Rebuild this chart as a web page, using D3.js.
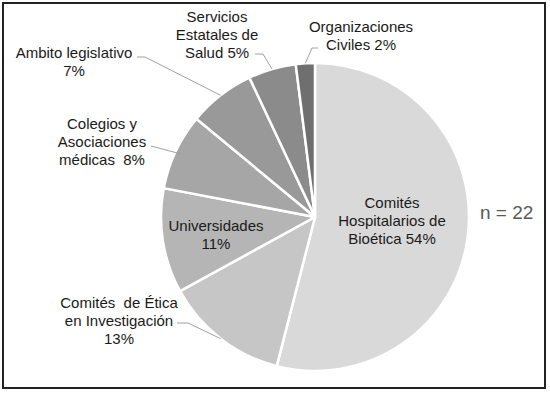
<!DOCTYPE html>
<head>
  <meta charset="utf-8">
  <script src="https://cdn.jsdelivr.net/npm/d3@7/dist/d3.min.js"></script>
  <style>
    body { margin: 0; background: #fff; }
    svg { font-family: "Liberation Sans", Arial, sans-serif; }
    .lbl { font-size: 15px; fill: #1a1a1a; white-space: pre; }
    .leader { fill: none; stroke: #a0a0a0; stroke-width: 1; }
  </style>
</head>
<body>
<div id="chart"></div>
<script>

// data, clockwise from 12 o'clock
var categories = ["Comités Hospitalarios de Bioética", "Comités de Ética en Investigación",
                  "Universidades", "Colegios y Asociaciones médicas", "Ambito legislativo",
                  "Servicios Estatales de Salud", "Organizaciones Civiles"];
var values = [54, 13, 11, 8, 7, 5, 2];
var labelLines = [
  ["Comités", "Hospitalarios de", "Bioética 54%"],
  ["Comités  de Ética", "en Investigación", "13%"],
  ["Universidades", "11%"],
  ["Colegios y", "Asociaciones", "médicas  8%"],
  ["Ambito legislativo", "7%"],
  ["Servicios", "Estatales de", "Salud 5%"],
  ["Organizaciones", "Civiles 2%"]
];
var nText = "n = 22";

var width = 550, height = 393;
var cx = 315, cy = 217, r = 154;

var fills = ["#d9d9d9", "#c6c6c6", "#b5b5b5", "#a6a6a6", "#999999", "#8b8b8b", "#6f6f6f"];

// label block centers (first line) and leader line start points
var labelPos = [
  {x: 392, y: 203, inside: true},
  {x: 119, y: 303, lead: [[177, 323], [188, 323]]},
  {x: 216, y: 226, inside: true},
  {x: 102, y: 124, lead: [[151, 146]], rr: 0.96},
  {x: 74,  y: 53,  lead: [[137, 57], [145, 57]]},
  {x: 217, y: 17,  lead: [[255, 54], [263, 54]]},
  {x: 361, y: 27,  lead: [[318, 48], [312, 48]]}
];

var svg = d3.select("#chart").append("svg")
    .attr("width", width)
    .attr("height", height);

svg.append("rect")
    .attr("x", 3).attr("y", 3)
    .attr("width", 542).attr("height", 385)
    .attr("fill", "#fff")
    .attr("stroke", "#222")
    .attr("stroke-width", 2);

var pie = d3.pie().sort(null).value(function(d) { return d; });
var arcs = pie(values);
var arc = d3.arc().innerRadius(0).outerRadius(r);

var g = svg.append("g").attr("transform", "translate(" + cx + "," + cy + ")");

g.selectAll("path")
    .data(arcs)
  .enter().append("path")
    .attr("d", arc)
    .attr("fill", function(d, i) { return fills[i]; })
    .attr("stroke", "#fff")
    .attr("stroke-width", 2.5)
    .attr("stroke-linejoin", "round");

// leader lines
arcs.forEach(function(d, i) {
  var p = labelPos[i];
  if (p.inside) return;
  var a = (d.startAngle + d.endAngle) / 2;
  var rr = r * (p.rr || 1);
  var end = [cx + rr * Math.sin(a), cy - rr * Math.cos(a)];
  svg.append("path")
      .attr("class", "leader")
      .attr("d", d3.line()(p.lead.concat([end])));
});

// labels
labelLines.forEach(function(lines, i) {
  var p = labelPos[i];
  var t = svg.append("text")
      .attr("class", "lbl")
      .attr("text-anchor", "middle")
      .attr("x", p.x)
      .attr("y", p.y);
  lines.forEach(function(s, j) {
    t.append("tspan")
        .attr("x", p.x)
        .attr("dy", j == 0 ? "0.35em" : 17.8)
        .text(s);
  });
});

svg.append("text")
    .attr("x", 480)
    .attr("y", 212)
    .attr("dy", "0.35em")
    .style("font-size", "19px")
    .style("fill", "#595959")
    .text(nText);

</script>
</body>
